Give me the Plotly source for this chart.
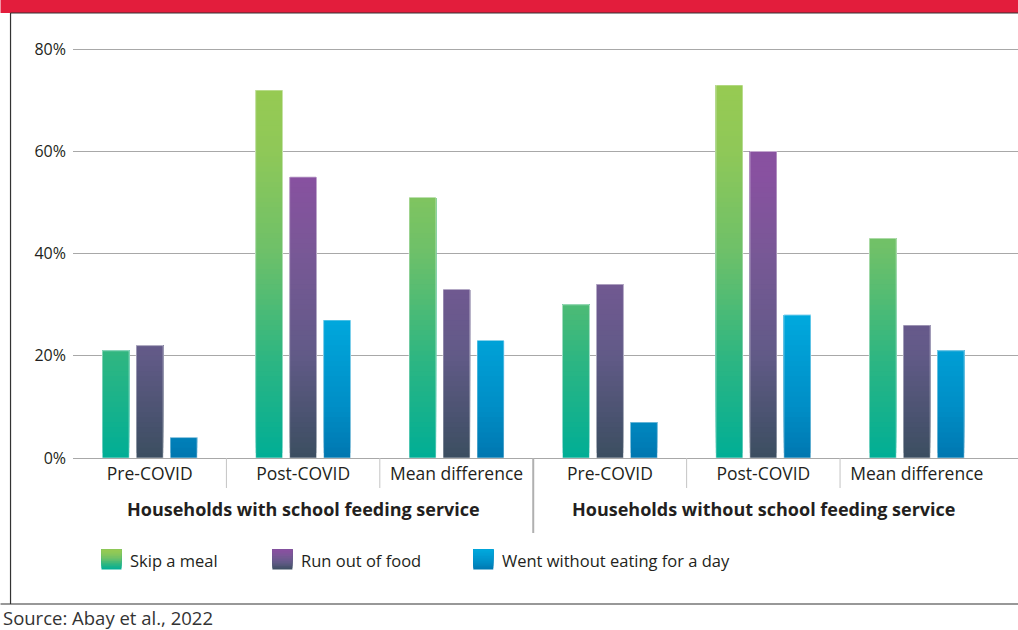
import plotly.graph_objects as go

# ---------------- data ----------------
categories = ["Pre-COVID", "Post-COVID", "Mean difference",
              "Pre-COVID", "Post-COVID", "Mean difference"]
groups = ["Households with school feeding service",
          "Households without school feeding service"]
series_names = ["Skip a meal", "Run out of food", "Went without eating for a day"]
skip_meal = [21, 72, 51, 30, 73, 43]
run_out_of_food = [22, 55, 33, 34, 60, 26]
went_without_eating = [4, 27, 23, 7, 28, 21]
y_tick_values = [0, 20, 40, 60, 80]
source_text = "Source: Abay et al., 2022"

# ---------------- style ----------------
W, H = 1018, 630
ML, MR, MT, MB = 72.5, 0, 39, 172
FONT = "Open Sans"
TXT = "#231f20"

# gradient stops (value in %, colour) -- colour depends on absolute height
stops = [
    [(0, "#00ae96"), (20, "#2fb681"), (40, "#6dc069"), (60, "#8fc858"), (80, "#9bcb4f")],
    [(0, "#3b4e60"), (20, "#615a87"), (40, "#785896"), (55, "#8851a0"), (80, "#8850a0")],
    [(0, "#0077b0"), (10, "#008ec6"), (28, "#00a9de"), (80, "#00aadf")],
]


def hex2rgb(h):
    h = h.lstrip("#")
    return tuple(int(h[i:i + 2], 16) for i in (0, 2, 4))


def color_at(st, v):
    if v <= st[0][0]:
        return "rgb(%d,%d,%d)" % hex2rgb(st[0][1])
    for (v0, c0), (v1, c1) in zip(st[:-1], st[1:]):
        if v0 <= v <= v1:
            t = (v - v0) / (v1 - v0)
            a, b = hex2rgb(c0), hex2rgb(c1)
            return "rgb(%d,%d,%d)" % tuple(round(a[i] + t * (b[i] - a[i])) for i in range(3))
    return "rgb(%d,%d,%d)" % hex2rgb(st[-1][1])


def px_x(px):
    return (px - ML) / (W - ML - MR)


def px_y(py):
    return (H - MB - py) / (H - MB - MT)


xs = list(range(len(categories)))
all_series = [skip_meal, run_out_of_food, went_without_eating]

fig = go.Figure()
STEP = 1.0
for si, vals in enumerate(all_series):
    top = max(vals)
    k = 0.0
    while k < top:
        ys = [v - k if v > k else None for v in vals]
        fig.add_trace(go.Bar(
            x=xs, y=ys, base=k, offsetgroup=str(si),
            marker=dict(color=color_at(stops[si], k + STEP / 2), line=dict(width=0)),
            showlegend=False, hoverinfo="skip"))
        k += STEP
    # thin light outline
    fig.add_trace(go.Bar(
        x=xs, y=vals, base=0, offsetgroup=str(si), name=series_names[si],
        marker=dict(color="rgba(0,0,0,0)",
                    line=dict(color="rgba(255,255,255,0.55)", width=1)),
        showlegend=False, hovertemplate="%{y}%<extra>" + series_names[si] + "</extra>"))

shapes = []
annotations = []

# header band and frame
shapes.append(dict(type="rect", xref="paper", yref="paper",
                   x0=px_x(0), x1=px_x(W), y0=px_y(13), y1=px_y(0),
                   fillcolor="#e31d3c", line=dict(width=0), layer="above"))
shapes.append(dict(type="line", xref="paper", yref="paper",
                   x0=px_x(10), x1=px_x(W), y0=px_y(13), y1=px_y(13),
                   line=dict(color="#333333", width=1.2)))
shapes.append(dict(type="line", xref="paper", yref="paper",
                   x0=px_x(10), x1=px_x(10), y0=px_y(13), y1=px_y(604),
                   line=dict(color="#333333", width=1.2)))
shapes.append(dict(type="line", xref="paper", yref="paper",
                   x0=px_x(0), x1=px_x(W), y0=px_y(604), y1=px_y(604),
                   line=dict(color="#333333", width=1.2)))

# category dividers
n_per_group = len(categories) // len(groups)
for i in range(len(categories) - 1):
    boundary = i + 0.5
    is_group = (i + 1) % n_per_group == 0
    shapes.append(dict(type="line", xref="x", yref="paper",
                       x0=boundary, x1=boundary, y0=0,
                       y1=px_y(533 if is_group else 488),
                       line=dict(color="#b0b0b0" if is_group else "#c4c4c4",
                                 width=2 if is_group else 1)))

# group labels
for gi, g in enumerate(groups):
    annotations.append(dict(text="<b>" + g + "</b>", xref="x", yref="paper",
                            x=gi * n_per_group + (n_per_group - 1) / 2, y=px_y(509),
                            showarrow=False, xanchor="center", yanchor="middle",
                            font=dict(family=FONT, size=18, color=TXT)))

# custom legend with gradient swatches (overlapping strips, no seams)
leg_x = [101, 272, 473]
for si, name in enumerate(series_names):
    x0 = leg_x[si]
    n = 12
    top_v = max(all_series[si])
    for j in range(n):
        y_lo = 569.5 - j * (20.0 / n)
        shapes.append(dict(type="rect", xref="paper", yref="paper",
                           x0=px_x(x0), x1=px_x(x0 + 20),
                           y0=px_y(y_lo), y1=px_y(549.5),
                           fillcolor=color_at(stops[si], top_v * (j + 0.5) / n),
                           line=dict(width=0)))
    annotations.append(dict(text=name, xref="paper", yref="paper",
                            x=px_x(x0 + 27), y=px_y(560), showarrow=False,
                            xanchor="left", yanchor="middle",
                            font=dict(family=FONT, size=16.5, color=TXT)))

# source
annotations.append(dict(text=source_text, xref="paper", yref="paper",
                        x=px_x(0), y=px_y(617), showarrow=False,
                        xanchor="left", yanchor="middle",
                        font=dict(family=FONT, size=18.5, color="#333333")))

fig.update_layout(
    width=W, height=H,
    margin=dict(l=ML, r=MR, t=MT, b=MB, autoexpand=False),
    paper_bgcolor="white", plot_bgcolor="white",
    barmode="group", bargap=0.3355, bargroupgap=0.205,
    showlegend=False,
    font=dict(family=FONT, size=16, color=TXT),
    shapes=shapes, annotations=annotations,
    xaxis=dict(range=[-0.5, 5.66], tickvals=xs, ticktext=categories,
               showgrid=False, zeroline=False, showline=False, ticks="",
               tickfont=dict(family=FONT, size=17.5, color=TXT),
               ticklabelstandoff=3, automargin=False, fixedrange=True),
    yaxis=dict(range=[0, 82], tickvals=y_tick_values,
               ticktext=[f"{v}%" for v in y_tick_values],
               showgrid=True, gridcolor="#a8a8a8", gridwidth=1,
               zeroline=True, zerolinecolor="#a8a8a8", zerolinewidth=1,
               showline=False, ticks="",
               tickfont=dict(family=FONT, size=16, color=TXT),
               ticklabelstandoff=6, automargin=False, fixedrange=True),
)

fig.write_html("out.html", config={"displayModeBar": False})
